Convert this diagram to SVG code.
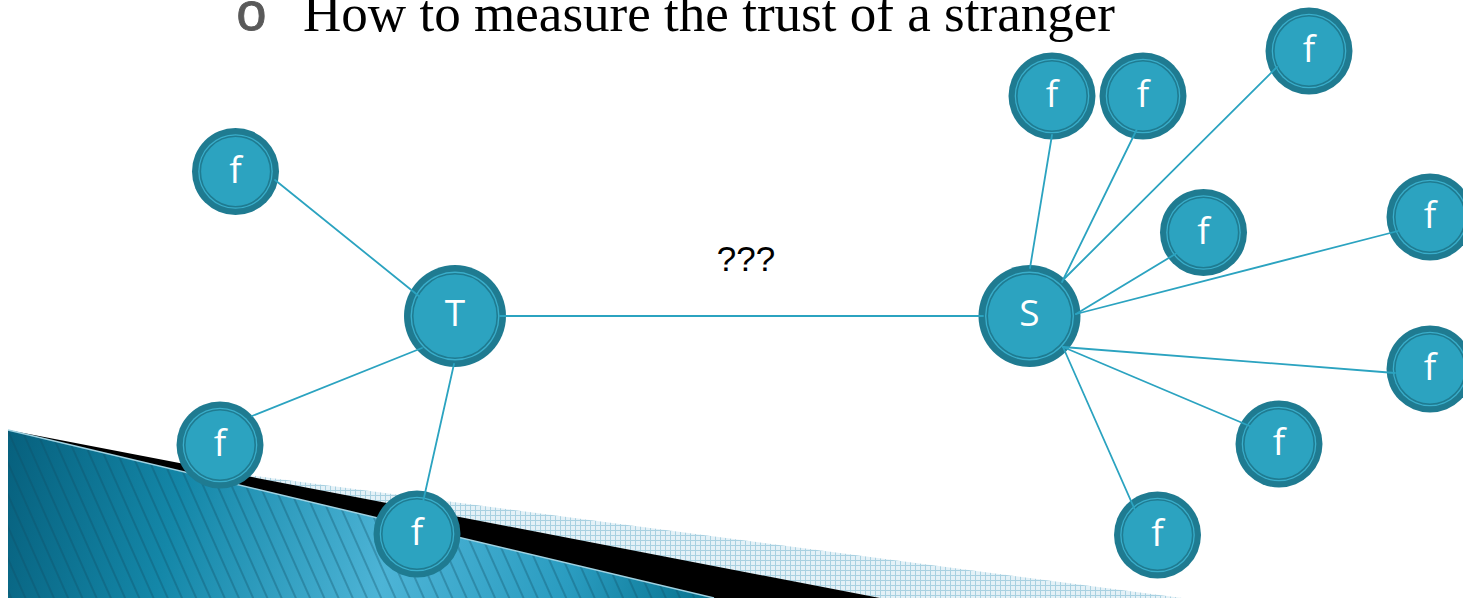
<svg xmlns="http://www.w3.org/2000/svg" width="1463" height="598" viewBox="0 0 1463 598">
<defs>
<style>
.ring{fill:#1f7b91}
.halo{fill:#3aaecb}
.core{fill:#2ca3c0;stroke:#1f7b91;stroke-width:1.6}
.lbl{font-family:"Open Sans","Noto Sans",sans-serif;font-size:37px;fill:#ffffff;text-anchor:middle}
.edge{stroke:#2ba3c0;stroke-width:1.8;fill:none;stroke-linecap:round}
</style>
<linearGradient id="blueGrad" x1="8" y1="430" x2="714" y2="598" gradientUnits="userSpaceOnUse">
<stop offset="0" stop-color="#07607d"/>
<stop offset="0.25" stop-color="#1487a8"/>
<stop offset="0.55" stop-color="#4db4d6"/>
<stop offset="0.8" stop-color="#2a9cc0"/>
<stop offset="1" stop-color="#06718d"/>
</linearGradient>
<pattern id="hatch" width="13" height="40" patternUnits="userSpaceOnUse" patternTransform="rotate(-24)">
<line x1="1" y1="0" x2="1" y2="40" stroke="#0c4d63" stroke-width="1.2" stroke-opacity="0.55"/>
</pattern>
<pattern id="check" width="5" height="5" patternUnits="userSpaceOnUse">
<rect width="5" height="5" fill="#e4f1f7"/>
<path d="M0 0.5H5M0.5 0V5" stroke="#a9d1e1" stroke-width="1"/>
</pattern>
</defs>
<rect width="1463" height="598" fill="#ffffff"/>
<g id="background">
<polygon points="141,461 1182,598 880,598" fill="url(#check)"/>
<polygon points="8,430 880,598 8,598" fill="#000000"/>
<polygon points="8,430 714,598 8,598" fill="url(#blueGrad)"/>
<polygon points="8,430 714,598 8,598" fill="url(#hatch)"/>
<line x1="8" y1="430" x2="714" y2="598" stroke="#9fd2e2" stroke-width="1.5"/>
</g>
<g id="title">
<text x="251.5" y="30" font-family="Liberation Mono, monospace" font-size="54" fill="#595959" stroke="#595959" stroke-width="0.9" text-anchor="middle">o</text>
<text x="303" y="31" font-family="Liberation Serif, serif" font-size="52" fill="#000000" textLength="812" lengthAdjust="spacingAndGlyphs">How to measure the trust of a stranger</text>
</g>
<text id="label-qqq" x="746" y="271" font-family="Liberation Sans, Arial, sans-serif" font-size="35" fill="#000000" text-anchor="middle">???</text>
<g id="node-T"><circle class="ring" cx="455" cy="316" r="51"/><circle class="halo" cx="455" cy="316" r="44.5"/><circle class="core" cx="455" cy="316" r="42.3"/><text class="lbl" x="455" y="326">T</text></g>
<g id="node-S"><circle class="ring" cx="1029.5" cy="316" r="51"/><circle class="halo" cx="1029.5" cy="316" r="44.5"/><circle class="core" cx="1029.5" cy="316" r="42.3"/><text class="lbl" x="1029.5" y="326">S</text></g>
<g id="node-f1"><circle class="ring" cx="235.5" cy="171.5" r="43.5"/><circle class="halo" cx="235.5" cy="171.5" r="37.3"/><circle class="core" cx="235.5" cy="171.5" r="35.2"/><text class="lbl" x="235.5" y="182.5">f</text></g>
<g id="node-f2"><circle class="ring" cx="220" cy="445" r="43.5"/><circle class="halo" cx="220" cy="445" r="37.3"/><circle class="core" cx="220" cy="445" r="35.2"/><text class="lbl" x="220" y="456">f</text></g>
<g id="node-f3"><circle class="ring" cx="417" cy="534" r="43.5"/><circle class="halo" cx="417" cy="534" r="37.3"/><circle class="core" cx="417" cy="534" r="35.2"/><text class="lbl" x="417" y="545">f</text></g>
<g id="node-f4"><circle class="ring" cx="1052" cy="96" r="43.5"/><circle class="halo" cx="1052" cy="96" r="37.3"/><circle class="core" cx="1052" cy="96" r="35.2"/><text class="lbl" x="1052" y="107">f</text></g>
<g id="node-f5"><circle class="ring" cx="1143" cy="96" r="43.5"/><circle class="halo" cx="1143" cy="96" r="37.3"/><circle class="core" cx="1143" cy="96" r="35.2"/><text class="lbl" x="1143" y="107">f</text></g>
<g id="node-f6"><circle class="ring" cx="1309" cy="51" r="43.5"/><circle class="halo" cx="1309" cy="51" r="37.3"/><circle class="core" cx="1309" cy="51" r="35.2"/><text class="lbl" x="1309" y="62">f</text></g>
<g id="node-f7"><circle class="ring" cx="1203.5" cy="232.5" r="43.5"/><circle class="halo" cx="1203.5" cy="232.5" r="37.3"/><circle class="core" cx="1203.5" cy="232.5" r="35.2"/><text class="lbl" x="1203.5" y="243.5">f</text></g>
<g id="node-f8"><circle class="ring" cx="1430" cy="217" r="43.5"/><circle class="halo" cx="1430" cy="217" r="37.3"/><circle class="core" cx="1430" cy="217" r="35.2"/><text class="lbl" x="1430" y="228">f</text></g>
<g id="node-f9"><circle class="ring" cx="1430" cy="369" r="43.5"/><circle class="halo" cx="1430" cy="369" r="37.3"/><circle class="core" cx="1430" cy="369" r="35.2"/><text class="lbl" x="1430" y="380">f</text></g>
<g id="node-f10"><circle class="ring" cx="1279" cy="444" r="43.5"/><circle class="halo" cx="1279" cy="444" r="37.3"/><circle class="core" cx="1279" cy="444" r="35.2"/><text class="lbl" x="1279" y="455">f</text></g>
<g id="node-f11"><circle class="ring" cx="1157.5" cy="535" r="43.5"/><circle class="halo" cx="1157.5" cy="535" r="37.3"/><circle class="core" cx="1157.5" cy="535" r="35.2"/><text class="lbl" x="1157.5" y="546">f</text></g>
<g id="connectors">
<line class="edge" x1="420" y1="297" x2="275" y2="180"/>
<line class="edge" x1="500" y1="316" x2="983" y2="316"/>
<line class="edge" x1="422" y1="348" x2="252" y2="416"/>
<line class="edge" x1="454" y1="364" x2="423" y2="502"/>
<line class="edge" x1="1030" y1="268" x2="1052" y2="135"/>
<line class="edge" x1="1062" y1="282" x2="1137" y2="129"/>
<line class="edge" x1="1064" y1="279" x2="1277" y2="67"/>
<line class="edge" x1="1076" y1="314" x2="1177" y2="253"/>
<line class="edge" x1="1076" y1="314" x2="1398" y2="231"/>
<line class="edge" x1="1063" y1="347" x2="1395" y2="373"/>
<line class="edge" x1="1063" y1="347" x2="1252" y2="427"/>
<line class="edge" x1="1063" y1="347" x2="1135" y2="510"/>
</g>
</svg>
